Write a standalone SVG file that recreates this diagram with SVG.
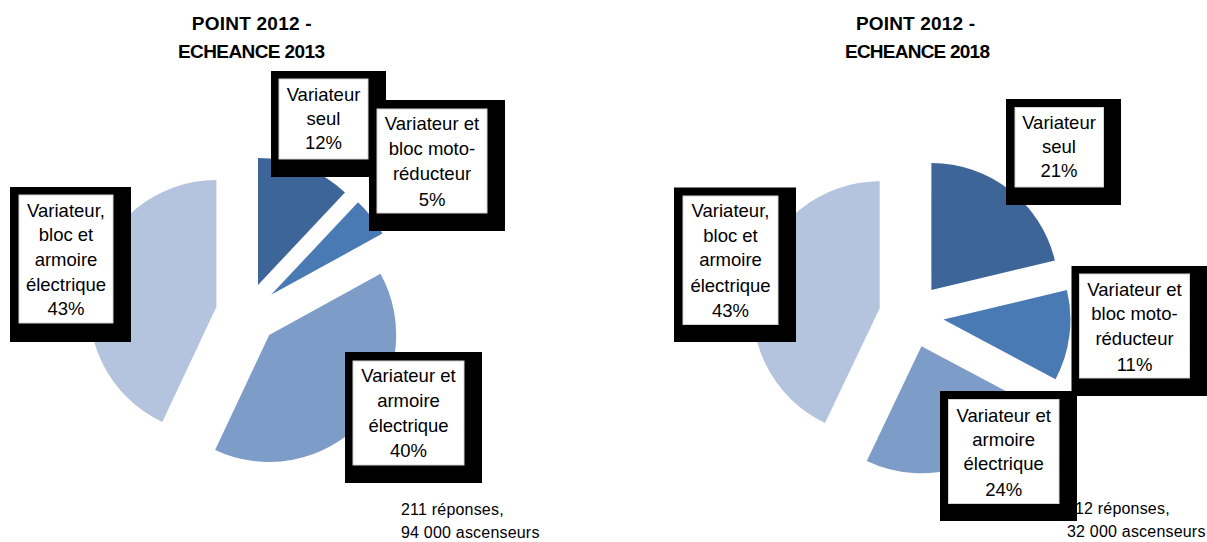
<svg xmlns="http://www.w3.org/2000/svg" width="1207" height="542" viewBox="0 0 1207 542">
<style>
.s1{fill:#3D6597}.s2{fill:#4A7AB3}.s3{fill:#7E9CC8}.s4{fill:#B4C3DE}
.bk{fill:#000}
.wh{fill:#fff;stroke:#d4d4d4;stroke-width:1}
.lb{font-family:"Liberation Sans",Arial,sans-serif;font-size:18.5px;fill:#000;text-anchor:middle}
.tt{font-family:"Liberation Sans",Arial,sans-serif;font-size:19px;font-weight:bold;fill:#000;text-anchor:middle}
.fn{font-family:"Liberation Sans",Arial,sans-serif;font-size:16px;fill:#000;letter-spacing:0.2px}
</style>
<rect width="1207" height="542" fill="#fff"/>

<g id="title-left">
<text class="tt" x="251.7" y="30" textLength="120" lengthAdjust="spacing">POINT 2012 -</text>
<text class="tt" x="251.5" y="58" textLength="147" lengthAdjust="spacing">ECHEANCE 2013</text>
</g>
<g id="title-right">
<text class="tt" x="915.5" y="30" textLength="119" lengthAdjust="spacing">POINT 2012 -</text>
<text class="tt" x="917.5" y="58" textLength="145" lengthAdjust="spacing">ECHEANCE 2018</text>
</g>

<!-- Left pie -->
<g id="pie-left">
<path id="l-seul" class="s1" d="M258,285 L258,158 A127,127 0 0 1 344.93,192.42 Z"/>
<path id="l-bloc" class="s2" d="M271.1,294.8 L358.03,202.22 A127,127 0 0 1 382.39,233.61 Z"/>
<path id="l-armoire" class="s3" d="M269.2,335.02 L380.49,273.83 A127,127 0 0 1 215.12,449.93 Z"/>
<path id="l-tout" class="s4" d="M216.35,307.04 L162.27,421.95 A127,127 0 0 1 216.35,180.04 Z"/>
</g>

<!-- Right pie -->
<g id="pie-right">
<path id="r-seul" class="s1" d="M931.36,290.06 L931.36,163.06 A127,127 0 0 1 1054.85,260.42 Z"/>
<path id="r-bloc" class="s2" d="M943.44,319.59 L1066.93,289.95 A127,127 0 0 1 1055.57,379.22 Z"/>
<path id="r-armoire" class="s3" d="M921.45,346.27 L1033.58,405.9 A127,127 0 0 1 866.78,460.9 Z"/>
<path id="r-tout" class="s4" d="M879.7,308.35 L825.03,422.98 A127,127 0 0 1 879.7,181.35 Z"/>
</g>

<!-- footnotes -->
<g id="note-left">
<text class="fn" x="401" y="515">211 réponses,</text>
<text class="fn" x="401" y="538">94 000 ascenseurs</text>
</g>
<g id="note-right">
<text class="fn" x="1067" y="514">112 réponses,</text>
<text class="fn" x="1067" y="537">32 000 ascenseurs</text>
</g>

<!-- Left labels -->
<g id="label-l-seul">
<rect class="bk" x="271" y="71" width="115" height="106"/>
<rect class="wh" x="279" y="79" width="89" height="80"/>
<text class="lb" x="323.5" y="100.7">Variateur</text>
<text class="lb" x="323.5" y="125">seul</text>
<text class="lb" x="323.5" y="149.3">12%</text>
</g>
<g id="label-l-bloc">
<rect class="bk" x="369" y="100" width="136" height="131"/>
<rect class="wh" x="377" y="109" width="110" height="104"/>
<text class="lb" x="432" y="130">Variateur et</text>
<text class="lb" x="432" y="155">bloc moto-</text>
<text class="lb" x="432" y="180">réducteur</text>
<text class="lb" x="432" y="205.7">5%</text>
</g>
<g id="label-l-tout">
<rect class="bk" x="10" y="187" width="121" height="155"/>
<rect class="wh" x="19" y="195" width="94" height="128"/>
<text class="lb" x="66" y="216.7">Variateur,</text>
<text class="lb" x="66" y="241">bloc et</text>
<text class="lb" x="66" y="265.7">armoire</text>
<text class="lb" x="66" y="291">électrique</text>
<text class="lb" x="66" y="315">43%</text>
</g>
<g id="label-l-armoire">
<rect class="bk" x="345" y="352" width="137" height="131"/>
<rect class="wh" x="353" y="361" width="111" height="104"/>
<text class="lb" x="408.5" y="381.7">Variateur et</text>
<text class="lb" x="408.5" y="406.7">armoire</text>
<text class="lb" x="408.5" y="431.7">électrique</text>
<text class="lb" x="408.5" y="457.3">40%</text>
</g>

<!-- Right labels -->
<g id="label-r-seul">
<rect class="bk" x="1006" y="99" width="115" height="106"/>
<rect class="wh" x="1015" y="107.5" width="88.5" height="79.5"/>
<text class="lb" x="1059" y="129.3">Variateur</text>
<text class="lb" x="1059" y="153.3">seul</text>
<text class="lb" x="1059" y="177.3">21%</text>
</g>
<g id="label-r-bloc">
<rect class="bk" x="1071.5" y="266" width="136" height="130"/>
<rect class="wh" x="1079.5" y="274" width="110" height="104"/>
<text class="lb" x="1134.5" y="296">Variateur et</text>
<text class="lb" x="1134.5" y="320">bloc moto-</text>
<text class="lb" x="1134.5" y="345">réducteur</text>
<text class="lb" x="1134.5" y="370.7">11%</text>
</g>
<g id="label-r-armoire">
<rect class="bk" x="940" y="391" width="137" height="130"/>
<rect class="wh" x="948.5" y="399.5" width="110.5" height="104"/>
<text class="lb" x="1003.7" y="421.7">Variateur et</text>
<text class="lb" x="1003.7" y="446">armoire</text>
<text class="lb" x="1003.7" y="470">électrique</text>
<text class="lb" x="1003.7" y="496">24%</text>
</g>
<g id="label-r-tout">
<rect class="bk" x="674" y="187.5" width="122" height="154.5"/>
<rect class="wh" x="683" y="196" width="95" height="128.5"/>
<text class="lb" x="730.5" y="217.3">Variateur,</text>
<text class="lb" x="730.5" y="241.7">bloc et</text>
<text class="lb" x="730.5" y="266">armoire</text>
<text class="lb" x="730.5" y="291.7">électrique</text>
<text class="lb" x="730.5" y="316.7">43%</text>
</g>

<g id="connectors"/>
</svg>
